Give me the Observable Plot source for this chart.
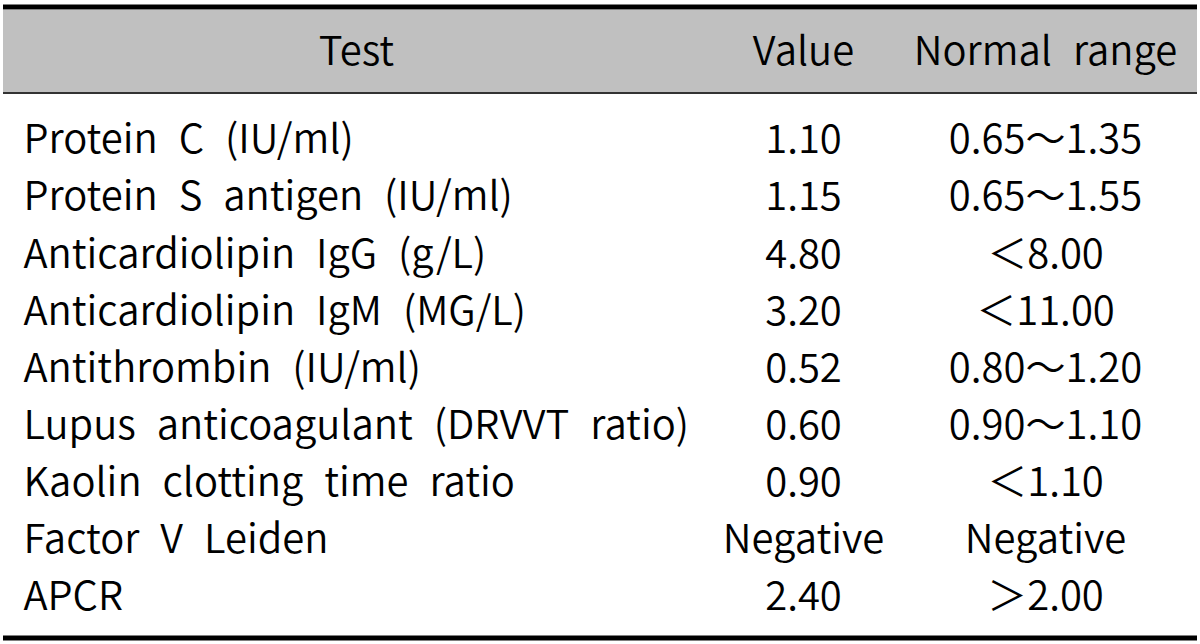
<!DOCTYPE html>
<html>
<head>
<meta charset="utf-8">
<script src="https://cdn.jsdelivr.net/npm/d3@7"></script>
<script src="https://cdn.jsdelivr.net/npm/@observablehq/plot@0.6"></script>
<style>
  html, body { margin: 0; padding: 0; background: #fff; }
  svg text { word-spacing: 12px; font-weight: 350; }
</style>
</head>
<body>
<div id="chart"></div>
<script>
// ---- table data ----
const headers = ["Test", "Value", "Normal range"];
const tests = [
  "Protein C (IU/ml)",
  "Protein S antigen (IU/ml)",
  "Anticardiolipin IgG (g/L)",
  "Anticardiolipin IgM (MG/L)",
  "Antithrombin (IU/ml)",
  "Lupus anticoagulant (DRVVT ratio)",
  "Kaolin clotting time ratio",
  "Factor V Leiden",
  "APCR"
];
const values = ["1.10", "1.15", "4.80", "3.20", "0.52", "0.60", "0.90", "Negative", "2.40"];
const ranges = ["0.65～1.35", "0.65～1.55", "＜8.00", "＜11.00", "0.80～1.20", "0.90～1.10", "＜1.10", "Negative", "＞2.00"];

// ---- layout (in row-index units for y, layout units for x) ----
const COL = { testLeft: 23, testHead: 356, value: 803, range: 1045 };
const ROW = { headText: -1.54, headTop: -2.276, headBottom: -0.84, topRule: -2.337, headRule: -0.8315, bottomRule: 8.709 };
const TABLE = { left: 3, right: 1197 };

const rows = tests.map((t, i) => ({ i, test: t, value: values[i], range: ranges[i] }));
const head = headers.map((h, j) => ({ h, x: [COL.testHead, COL.value, COL.range][j] }));

const font = "'Noto Sans CJK KR', 'Noto Sans', sans-serif";
const FS = 40;

const chart = Plot.plot({
  width: 1200,
  height: 644,
  margin: 0,
  x: { domain: [0, 1200], axis: null },
  y: { domain: [-2.4508, 8.8228], reverse: true, axis: null },
  style: { fontFamily: font, background: "#fff", color: "#000" },
  marks: [
    Plot.rect([0], { x1: () => TABLE.left, x2: () => TABLE.right, y1: () => ROW.headTop, y2: () => ROW.headBottom, fill: "#c0c0c0" }),
    Plot.ruleY([ROW.topRule], { x1: TABLE.left, x2: TABLE.right, stroke: "#000", strokeWidth: 5 }),
    Plot.ruleY([ROW.headRule], { x1: TABLE.left, x2: TABLE.right, stroke: "#333", strokeWidth: 2 }),
    Plot.ruleY([ROW.bottomRule], { x1: TABLE.left, x2: TABLE.right, stroke: "#000", strokeWidth: 5 }),
    Plot.text(head, { x: "x", y: () => ROW.headText, text: "h", fontSize: FS, fill: "#000" }),
    Plot.text(rows, { x: () => COL.testLeft, y: "i", text: "test", textAnchor: "start", fontSize: FS, fill: "#000" }),
    Plot.text(rows, { x: () => COL.value, y: "i", text: "value", fontSize: FS, fill: "#000" }),
    Plot.text(rows, { x: () => COL.range, y: "i", text: "range", fontSize: FS, fill: "#000" })
  ]
});
document.getElementById("chart").appendChild(chart);
</script>
</body>
</html>
